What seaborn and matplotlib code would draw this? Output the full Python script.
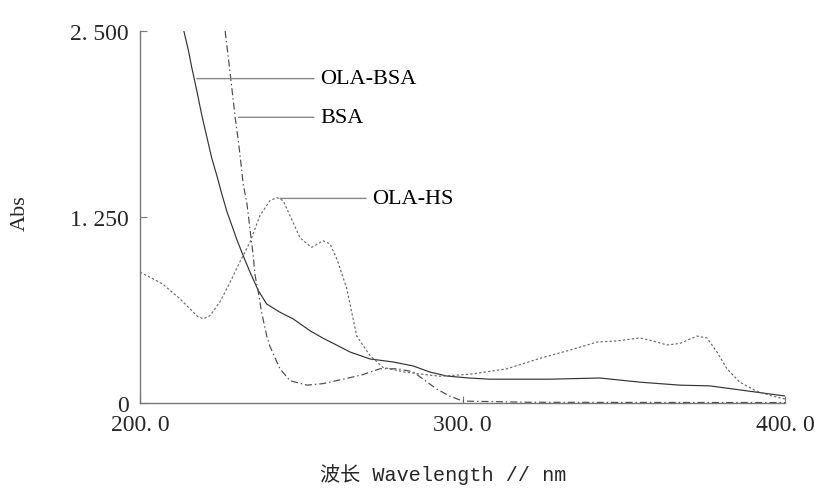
import matplotlib
matplotlib.use("Agg")
import matplotlib.pyplot as plt
import seaborn as sns
import pandas as pd

# ---- data ----
ola_bsa_wl = [213.6, 215, 216, 217.6, 219.1, 220.7, 222.2, 223.8, 225.3, 226.9, 230, 232, 234.1,
              236.7, 239.3, 243.4, 247.5, 252.7, 256.8, 260, 265.1, 271.3, 278.4, 284.7, 289.9,
              295.2, 302, 308.5, 327, 342.6, 355, 367.4, 376.7, 386, 400]
ola_bsa_abs = [2.5, 2.37, 2.26, 2.10, 1.94, 1.79, 1.65, 1.53, 1.41, 1.29, 1.10, 0.99, 0.88,
               0.755, 0.665, 0.61, 0.565, 0.486, 0.435, 0.40, 0.343, 0.296, 0.276, 0.249, 0.208,
               0.181, 0.168, 0.16, 0.16, 0.168, 0.14, 0.12, 0.115, 0.088, 0.047]

bsa_wl = [226.4, 227.4, 228.2, 229.5, 230.5, 231.3, 232, 233.1, 234.1, 235.1, 235.7, 236.7,
          237.7, 239.3, 240.3, 243.4, 246.5, 251.8, 256.7, 263, 269, 274.4, 279.7, 284.7,
          287.8, 292, 296, 300, 320, 350, 400]
bsa_abs = [2.5, 2.32, 2.17, 1.92, 1.76, 1.61, 1.47, 1.35, 1.17, 0.99, 0.855, 0.744,
           0.61, 0.45, 0.38, 0.23, 0.15, 0.12, 0.13, 0.16, 0.19, 0.23, 0.23, 0.21,
           0.16, 0.094, 0.047, 0.013, 0.005, 0.004, 0.003]

ola_hs_wl = [200, 207, 212.4, 217.7, 219.6, 221.7, 224.8, 227.9, 231, 234.1, 237.2, 240.3,
             242.4, 244.4, 246.5, 249.6, 253.2, 256.8, 258.9, 261, 264.1, 267.2, 270, 271.3,
             275.3, 281.5, 286.8, 293, 300, 303, 313.8, 324, 334, 341.7, 347.9, 355, 359,
             363.4, 367.4, 372.7, 375.8, 379, 382, 386, 391, 396, 400]
ola_hs_abs = [0.88, 0.80, 0.70, 0.585, 0.565, 0.587, 0.68, 0.81, 0.95, 1.08, 1.26, 1.36,
              1.38, 1.36, 1.26, 1.11, 1.046, 1.09, 1.07, 0.97, 0.77, 0.45, 0.36, 0.32,
              0.24, 0.21, 0.195, 0.18, 0.19, 0.195, 0.23, 0.30, 0.36, 0.41, 0.417, 0.437, 0.417,
              0.39, 0.40, 0.45, 0.437, 0.34, 0.23, 0.14, 0.081, 0.047, 0.027]

x_ticks = [200, 300, 400]
x_tick_labels = ["200. 0", "300. 0", "400. 0"]
y_ticks = [0, 1.25, 2.5]
y_tick_labels = ["0", "1. 250", "2. 500"]

series_names = ["OLA-BSA", "BSA", "OLA-HS"]
label_anchor = [(217.6, 2.18), (230.5, 1.92), (243.5, 1.375)]   # point on curve
label_text_x = [255.8, 255.8, 272.0]                             # start of label

# ---- style ----
sns.set_style("ticks")
plt.rcParams["font.family"] = ["Liberation Serif", "DejaVu Serif"]

fig = plt.figure(figsize=(8.15, 4.89), dpi=100)
ax = fig.add_axes([140 / 815, 1 - 404 / 489, 645 / 815, 372 / 489])

df1 = pd.DataFrame({"wl": ola_bsa_wl, "abs": ola_bsa_abs})
df2 = pd.DataFrame({"wl": bsa_wl, "abs": bsa_abs})
df3 = pd.DataFrame({"wl": ola_hs_wl, "abs": ola_hs_abs})

sns.lineplot(data=df1, x="wl", y="abs", ax=ax, color="#333333", lw=0.85, estimator=None, sort=False)
sns.lineplot(data=df2, x="wl", y="abs", ax=ax, color="#4a4a4a", lw=0.85, estimator=None, sort=False)
ax.lines[-1].set_dashes([6, 2.5, 1.2, 2.5])
sns.lineplot(data=df3, x="wl", y="abs", ax=ax, color="#6a6a6a", lw=0.85, estimator=None, sort=False)
ax.lines[-1].set_dashes([2, 1.8])

ax.set_xlim(200, 400)
ax.set_ylim(0, 2.5)

for name, (ax_x, ax_y), tx in zip(series_names, label_anchor, label_text_x):
    ax.annotate(name, xy=(ax_x, ax_y), xytext=(tx, ax_y), ha="left", va="center",
                fontsize=16, color="black",
                arrowprops=dict(arrowstyle="-", color="#888888", lw=1.0, shrinkA=2, shrinkB=0))

ax.set_xticks(x_ticks)
ax.set_xticklabels(x_tick_labels)
ax.set_yticks(y_ticks)
ax.set_yticklabels(y_tick_labels)
ax.tick_params(direction="in", length=5, width=0.8, color="#777777", labelsize=17, pad=8)

for s in ["top", "right"]:
    ax.spines[s].set_visible(False)
for s in ["left", "bottom"]:
    ax.spines[s].set_color("#777777")
    ax.spines[s].set_linewidth(1.0)

ax.set_ylabel("Abs", fontsize=16, ha="center", va="center")
ax.yaxis.set_label_coords((20 - 140) / 645, (404 - 213) / 372)
ax.set_xlabel("波长 Wavelength // nm", fontsize=14.5, ha="center", va="center",
              family=["Liberation Mono", "Noto Sans CJK SC"])
ax.xaxis.set_label_coords((443 - 140) / 645, (404 - 475) / 372)

fig.savefig("out.png", dpi=100)
